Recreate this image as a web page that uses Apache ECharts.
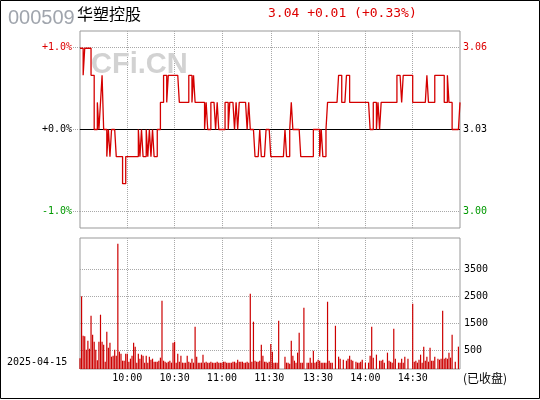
<!DOCTYPE html>
<html><head><meta charset="utf-8">
<script src="https://cdn.jsdelivr.net/npm/echarts@6/dist/echarts.min.js"></script>
<style>
html,body{margin:0;padding:0;background:#fff;}
#c{width:540px;height:400px;}
</style></head><body><div id="c"></div>
<script>
// ---------- data ----------
const stockCode = '000509';
const stockName = '华塑控股';
const quoteText = '3.04 +0.01 (+0.33%)';
const dateText = '2025-04-15';
const statusText = '(已收盘)';
const basePrice = 3.03;

const sessions = [['09:30', '11:30'], ['13:00', '15:00']];

const price = [
3.06,3.06,3.05,3.06,3.06,3.06,3.06,3.05,3.05,3.03,
3.03,3.04,3.03,3.04,3.05,3.03,3.03,3.02,3.03,3.02,
3.03,3.03,3.03,3.02,3.02,3.02,3.02,3.01,3.01,3.02,
3.02,3.02,3.02,3.02,3.02,3.02,3.02,3.03,3.02,3.03,
3.02,3.02,3.03,3.02,3.03,3.02,3.03,3.02,3.02,3.03,
3.03,3.04,3.04,3.05,3.05,3.04,3.05,3.05,3.05,3.05,
3.05,3.05,3.05,3.04,3.04,3.04,3.04,3.04,3.04,3.05,
3.05,3.04,3.05,3.04,3.04,3.04,3.04,3.04,3.04,3.03,
3.04,3.03,3.03,3.04,3.04,3.04,3.03,3.04,3.03,3.03,
3.03,3.03,3.04,3.04,3.03,3.04,3.04,3.04,3.03,3.04,
3.03,3.04,3.04,3.04,3.04,3.04,3.03,3.04,3.03,3.03,
3.03,3.02,3.02,3.02,3.03,3.02,3.02,3.02,3.03,3.03,
3.03,3.02,3.02,3.02,3.02,3.02,3.02,3.02,3.02,3.02,
3.03,3.02,3.02,3.03,3.04,3.03,3.03,3.03,3.03,3.03,
3.02,3.02,3.02,3.02,3.02,3.02,3.02,3.02,3.03,3.03,
3.03,3.03,3.02,3.03,3.02,3.02,3.03,3.04,3.04,3.04,
3.04,3.04,3.04,3.04,3.05,3.05,3.04,3.04,3.04,3.05,
3.05,3.04,3.04,3.04,3.04,3.04,3.04,3.04,3.04,3.04,
3.04,3.04,3.04,3.04,3.03,3.03,3.04,3.04,3.03,3.04,
3.03,3.04,3.04,3.04,3.04,3.04,3.04,3.04,3.04,3.04,
3.04,3.05,3.05,3.05,3.04,3.05,3.05,3.05,3.05,3.05,
3.05,3.04,3.04,3.04,3.04,3.04,3.04,3.04,3.04,3.04,
3.05,3.04,3.04,3.04,3.04,3.05,3.05,3.05,3.05,3.05,
3.05,3.04,3.04,3.05,3.04,3.04,3.03,3.03,3.03,3.03,
3.03,3.04
];

const volume = [
395,2690,1230,1210,715,1050,750,1975,1270,1010,
715,320,1010,2010,1010,900,270,1380,790,975,
456,494,715,494,4640,642,568,308,308,568,
568,270,382,494,975,826,235,568,382,531,
494,235,494,235,456,345,382,270,270,270,
308,420,2530,308,270,235,270,308,235,975,
1012,235,568,270,494,235,235,235,494,270,
235,382,235,1566,456,235,235,235,531,235,
270,235,235,270,235,235,235,270,235,235,
235,270,270,235,235,235,235,270,270,235,
345,270,270,270,235,235,270,235,2790,270,
1751,308,270,270,308,900,494,270,270,235,
270,925,640,235,235,235,1790,0,0,0,
456,235,235,197,1050,494,308,235,605,1345,
235,235,2270,0,235,235,420,235,680,235,
270,345,308,235,235,235,235,2490,308,235,
235,0,1600,0,456,382,0,345,0,308,
382,494,345,308,0,270,235,235,270,345,
0,235,0,235,494,1566,420,0,531,0,
308,308,345,235,0,605,308,270,235,1490,
382,0,235,235,382,235,456,0,382,0,
0,2420,270,308,235,345,530,235,827,308,
456,270,790,308,308,456,0,382,345,382,
2160,382,420,382,605,420,1270,0,270,0,
827,0
];

const timeLabels = ['10:00', '10:30', '11:00', '11:30', '13:30', '14:00', '14:30'];
const timeGridLines = ['10:00', '10:30', '11:00', '13:00', '13:30', '14:00', '14:30'];
const pctTicks = [-1, 0, 1];
const priceTicks = [2.9997, 3.03, 3.0603];
const volTicks = [500, 1500, 2500, 3500];

// ---------- build minute categories ----------
function toMin(s) { const p = s.split(':'); return +p[0] * 60 + +p[1]; }
function fmt(m) { const h = Math.floor(m / 60), mm = m % 60; return String(h).padStart(2, '0') + ':' + String(mm).padStart(2, '0'); }
const times = [];
sessions.forEach(s => { for (let m = toMin(s[0]); m <= toMin(s[1]); m++) times.push(fmt(m)); });

const RED = '#dd0000', GREEN = '#009900', GRID = '#a8a8a8';
const MONO = 'DejaVu Sans Mono';

const chart = echarts.init(document.getElementById('c'), null, { renderer: 'canvas' });
chart.setOption({
  animation: false,
  backgroundColor: '#fff',
  grid: [
    { left: 80, top: 31, width: 380, height: 197, show: true, borderColor: '#999', borderWidth: 1 },
    { left: 80, top: 238, width: 380, height: 131, show: true, borderColor: '#999', borderWidth: 1 }
  ],
  xAxis: [
    {
      type: 'category', gridIndex: 0, data: times, boundaryGap: false,
      axisLine: { show: false }, axisTick: { show: false }, axisLabel: { show: false },
      splitLine: { show: true, interval: (i, v) => timeGridLines.includes(v), lineStyle: { type: 'dotted', color: GRID } }
    },
    {
      type: 'category', gridIndex: 1, data: times, boundaryGap: false,
      axisLine: { show: false }, axisTick: { show: false },
      axisLabel: { interval: (i, v) => timeLabels.includes(v), formatter: v => v, color: '#000', fontFamily: MONO, fontSize: 10, margin: 4 },
      splitLine: { show: true, interval: (i, v) => timeGridLines.includes(v), lineStyle: { type: 'dotted', color: GRID } }
    }
  ],
  yAxis: [
    {
      type: 'value', gridIndex: 0, position: 'left', min: -1.2, max: 1.2,
      axisLine: { show: false },
      axisTick: { show: true, length: 8, customValues: pctTicks, lineStyle: { type: 'dotted', color: GRID } },
      axisLabel: {
        customValues: pctTicks, margin: 8, fontFamily: MONO, fontSize: 10,
        formatter: v => (v >= 0 ? '+' : '') + Number(v).toFixed(1) + '%',
        color: v => { v = parseFloat(v); return v > 0 ? RED : v < 0 ? GREEN : '#000'; }
      },
      splitLine: { show: true, lineStyle: { type: 'dotted', color: GRID } }
    },
    {
      type: 'value', gridIndex: 0, position: 'right', min: basePrice * 0.988, max: basePrice * 1.012,
      axisLine: { show: false },
      axisTick: { show: false, customValues: priceTicks },
      axisLabel: {
        customValues: priceTicks, margin: 3, fontFamily: MONO, fontSize: 10,
        formatter: v => Number(v).toFixed(2),
        color: v => { v = parseFloat(v); return v > basePrice + 0.001 ? RED : v < basePrice - 0.001 ? GREEN : '#000'; }
      },
      splitLine: { show: false }
    },
    { type: 'value', gridIndex: 1, min: 0, max: 4850, show: false },
    {
      type: 'value', gridIndex: 1, position: 'right', min: -200, max: 4650,
      axisLine: { show: false },
      axisTick: { show: false, customValues: volTicks },
      axisLabel: { customValues: volTicks, margin: 4, color: '#000', fontFamily: MONO, fontSize: 10, formatter: v => String(v) },
      splitLine: { show: true, lineStyle: { type: 'dotted', color: GRID } }
    }
  ],
  series: [
    {
      type: 'line', xAxisIndex: 0, yAxisIndex: 1, data: price, showSymbol: false, symbol: 'none', step: 'end',
      lineStyle: { color: '#d40000', width: 1.3 }, z: 3,
      markLine: {
        silent: true, symbol: 'none', label: { show: false },
        lineStyle: { color: '#000', type: 'solid', width: 1 },
        data: [{ yAxis: basePrice }], z: 2
      }
    },
    {
      type: 'bar', xAxisIndex: 1, yAxisIndex: 2, data: volume, barWidth: 1.2,
      itemStyle: { color: '#cc0000' }
    }
  ],
  graphic: [
    { type: 'text', left: 8, top: 8, z: 5, style: { text: stockCode, font: '20px "Liberation Sans"', fill: '#a0a5ad' } },
    { type: 'text', left: 77, top: 6, z: 5, style: { text: stockName, font: '16px "Noto Sans CJK SC"', fill: '#000' } },
    { type: 'text', left: 268, top: 7, z: 5, style: { text: quoteText, font: '13px "DejaVu Sans Mono"', fill: RED } },
    { type: 'text', left: 91, top: 50, z: 1, style: { text: 'CFi.CN', font: 'bold 29px "Liberation Sans"', fill: '#d2d2d2' } },
    { type: 'text', left: 7, top: 357, z: 5, style: { text: dateText, font: '10px "DejaVu Sans Mono"', fill: '#000' } },
    { type: 'text', left: 463, top: 372, z: 5, style: { text: statusText, font: '12px "Noto Sans CJK SC"', fill: '#000' } },
    { type: 'rect', z: 10, shape: { x: 0.5, y: 0.5, width: 539, height: 398 }, style: { fill: 'none', stroke: '#000', lineWidth: 1 } }
  ]
});
</script></body></html>
